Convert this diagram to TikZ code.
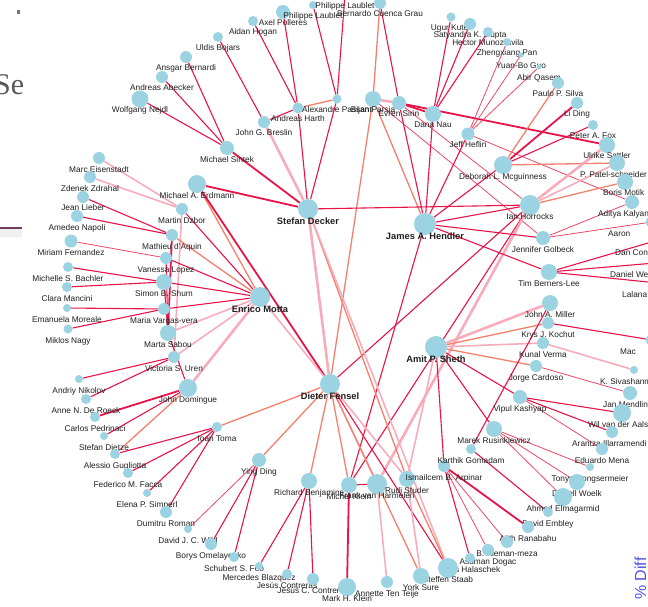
\documentclass[tikz,border=0pt]{standalone}
\usepackage{fontspec}
\setmainfont{Liberation Sans}
\newfontfamily\seriffont{Liberation Serif}
\pgfdeclarelayer{edges}
\pgfsetlayers{edges,main}

\definecolor{nodeblue}{RGB}{155,211,226}
\definecolor{hotred}{RGB}{232,20,72}
\definecolor{warmred}{RGB}{238,72,102}
\definecolor{salmon}{RGB}{244,128,108}
\definecolor{palepink}{RGB}{248,172,186}

\newcommand\pers[5]{\node[author,minimum size=#4pt] (#1) at (#2,#3) {};
  \node[lbl,anchor=base] at (#2,#3+14) {#5};}
\newcommand\persw[6]{\node[author,minimum size=#4pt] (#1) at (#2,#3) {};
  \node[lbl,anchor=base west] at (#6,#3+14) {#5};}
\newcommand\hubp[5]{\node[author,minimum size=#4pt] (#1) at (#2,#3) {};
  \node[hublbl,anchor=base] at (#2,#3+15) {#5};}

\begin{document}
\begin{tikzpicture}[x=1pt,y=-1pt,
    author/.style={circle,fill=nodeblue,inner sep=0pt},
    lbl/.style={font=\fontsize{8.3}{9}\selectfont,inner sep=0pt,text=black!88},
    hublbl/.style={font=\bfseries\fontsize{9.3}{10}\selectfont,inner sep=0pt,text=black!88},
    hot/.style={draw=hotred,line width=1.1pt},
    hott/.style={draw=hotred,line width=1.8pt},
    warm/.style={draw=warmred,line width=0.8pt},
    mild/.style={draw=salmon,line width=1.3pt},
    pale/.style={draw=palepink,line width=1.6pt},
    palet/.style={draw=palepink,line width=2.6pt}]

  \useasboundingbox (0,0) rectangle (648,607);

  \node[font=\seriffont\fontsize{30}{30}\selectfont,text=black!65,anchor=base west,inner sep=0pt] (se) at (-6,95) {Se};
  \fill[black!55] (17,10) rectangle (20,14);
  \fill[black!6] (0,229) rectangle (22,237);
  \draw[line width=1.2pt,color={rgb,255:red,110;green,60;blue,95}] (0,228) -- (22,228);
  \node[rotate=90,anchor=base west,inner sep=0pt,text={rgb,255:red,80;green,80;blue,230},font=\fontsize{16}{16}\selectfont] (diff) at (646,600) {\% Diff};

  \pers{axel}{283}{12}{14}{Axel Polleres}
  \pers{aidan}{253}{21}{10}{Aidan Hogan}
  \pers{uldis}{218}{37}{10}{Uldis Bojars}
  \pers{ansgar}{186}{57}{12}{Ansgar Bernardi}
  \pers{abecker}{162}{77}{12}{Andreas Abecker}
  \pers{nejdl}{140}{99}{17}{Wolfgang Nejdl}
  \pers{sintek}{227}{148}{14}{Michael Sintek}
  \pers{breslin}{264}{122}{12}{John G. Breslin}
  \pers{harth}{298}{108}{11}{Andreas Harth}
  \pers{passant}{337}{99}{9}{Alexandre Passant}
  \pers{laublet}{313}{5}{8}{Philippe Laublet}
  \pers{laubletb}{345}{-5}{10}{Philippe Laublet}
  \pers{grau}{380}{3}{12}{Bernardo Cuenca Grau}
  \pers{parsia}{373}{99}{16}{Bijan Parsia}
  \pers{sirin}{399}{103}{14}{Evren Sirin}
  \pers{nau}{433}{114}{16}{Dana Nau}
  \pers{heflin}{468}{134}{13}{Jeff Heflin}
  \pers{kuter}{451}{17}{9}{Ugur Kuter}
  \pers{gupta}{470}{24}{12}{Satyandra K. Gupta}
  \pers{munoz}{488}{32}{10}{Hector Munoz-avila}
  \pers{pan}{507}{42}{8}{Zhengxiang Pan}
  \pers{guo}{521}{55}{5}{Yuan-Bo Guo}
  \pers{qasem}{539}{67}{5}{Abir Qasem}
  \pers{silva}{558}{83}{12}{Paulo P. Silva}
  \pers{lding}{577}{103}{12}{Li Ding}
  \pers{fox}{593}{125}{10}{Peter A. Fox}
  \pers{sattler}{607}{145}{16}{Ulrike Sattler}
  \persw{patel}{617}{163}{16}{P. Patel-schneider}{580}
  \persw{motik}{625}{182}{16}{Boris Motik}{603}
  \pers{mcguinness}{503}{165}{18}{Deborah L. Mcguinness}
  \pers{horrocks}{530}{205}{20}{Ian Horrocks}
  \persw{kalyanpur}{632}{202}{14}{Aditya Kalyanpur}{598}
  \persw{aaron}{652}{222}{12}{Aaron}{608}
  \persw{connolly}{655}{241}{12}{Dan Connolly}{615}
  \persw{weitzner}{655}{263}{12}{Daniel Weitzner}{610}
  \persw{kagal}{658}{283}{12}{Lalana Kagal}{622}
  \pers{golbeck}{543}{238}{14}{Jennifer Golbeck}
  \pers{bernerslee}{549}{272}{16}{Tim Berners-Lee}
  \hubp{hendler}{425}{224}{22}{James A. Hendler}
  \hubp{decker}{308}{209}{20}{Stefan Decker}
  \hubp{motta}{260}{297}{20}{Enrico Motta}
  \pers{erdmann}{197}{184}{18}{Michael A. Erdmann}
  \pers{dzbor}{182}{209}{12}{Martin Dzbor}
  \pers{eisenstadt}{99}{158}{12}{Marc Eisenstadt}
  \pers{zdrahal}{90}{177}{12}{Zdenek Zdrahal}
  \pers{lieber}{83}{197}{12}{Jean Lieber}
  \pers{napoli}{77}{216}{12}{Amedeo Napoli}
  \pers{daquin}{172}{235}{12}{Mathieu d'Aquin}
  \pers{fernandez}{71}{241}{13}{Miriam Fernandez}
  \pers{lopez}{166}{258}{12}{Vanessa Lopez}
  \pers{bachler}{68}{267}{10}{Michelle S. Bachler}
  \pers{shum}{164}{282}{16}{Simon B. Shum}
  \pers{mancini}{67}{287}{10}{Clara Mancini}
  \pers{moreale}{67}{308}{8}{Emanuela Moreale}
  \pers{vargas}{164}{309}{12}{Maria Vargas-vera}
  \pers{nagy}{68}{329}{9}{Miklos Nagy}
  \pers{sabou}{168}{333}{16}{Marta Sabou}
  \pers{uren}{174}{357}{12}{Victoria S. Uren}
  \pers{domingue}{188}{388}{18}{John Domingue}
  \pers{nikolov}{79}{379}{8}{Andriy Nikolov}
  \pers{deroeck}{86}{399}{10}{Anne N. De Roeck}
  \pers{pedrinaci}{95}{417}{10}{Carlos Pedrinaci}
  \pers{dietze}{104}{436}{8}{Stefan Dietze}
  \pers{gugliotta}{115}{454}{10}{Alessio Gugliotta}
  \pers{facca}{128}{473}{10}{Federico M. Facca}
  \pers{simperl}{147}{493}{8}{Elena P. Simperl}
  \pers{roman}{166}{512}{12}{Dumitru Roman}
  \pers{wild}{188}{529}{8}{David J. C. Wild}
  \pers{omelayenko}{211}{544}{12}{Borys Omelayenko}
  \pers{foo}{234}{557}{10}{Schubert S. Foo}
  \pers{blazquez}{259}{566}{8}{Mercedes Blazquez}
  \pers{contreras}{287}{574}{10}{Jesús Contreras}
  \pers{ccontreras}{313}{579}{12}{Jesús C. Contreras}
  \pers{markklein}{347}{587}{18}{Mark H. Klein}
  \pers{tenteije}{387}{582}{12}{Annette Ten Teije}
  \pers{yding}{259}{460}{14}{Ying Ding}
  \pers{toma}{217}{427}{10}{Ioan Toma}
  \pers{benjamins}{309}{481}{16}{Richard Benjamins}
  \pers{michelklein}{349}{485}{16}{Michel Klein}
  \pers{harmelen}{377}{484}{20}{Frank van Harmelen}
  \pers{studer}{407}{479}{16}{Rudi Studer}
  \pers{arpinar}{444}{466}{12}{Ismailcem B. Arpinar}
  \pers{gomadam}{471}{449}{10}{Karthik Gomadam}
  \pers{rusinkiewicz}{494}{429}{16}{Marek Rusinkiewicz}
  \pers{kashyap}{520}{397}{14}{Vipul Kashyap}
  \pers{cardoso}{536}{366}{12}{Jorge Cardoso}
  \pers{verma}{543}{343}{12}{Kunal Verma}
  \pers{kochut}{548}{323}{12}{Krys J. Kochut}
  \pers{miller}{550}{303}{16}{John A. Miller}
  \hubp{sheth}{436}{347}{22}{Amit P. Sheth}
  \hubp{fensel}{330}{384}{20}{Dieter Fensel}
  \persw{mac}{652}{340}{12}{Mac}{620}
  \persw{sivash}{634}{370}{8}{K. Sivashanmugam}{600}
  \persw{mendling}{630}{393}{14}{Jan Mendling}{603}
  \persw{aalst}{622}{413}{18}{Wil van der Aalst}{588}
  \persw{illarramendi}{612}{432}{12}{Arantza Illarramendi}{572}
  \pers{mena}{602}{449}{12}{Eduardo Mena}
  \pers{hongsermeier}{590}{467}{8}{Tonya Hongsermeier}
  \pers{woelk}{577}{482}{16}{Darrell Woelk}
  \pers{elmagarmid}{563}{497}{18}{Ahmed Elmagarmid}
  \pers{embley}{548}{512}{10}{David Embley}
  \pers{ranabahu}{528}{527}{12}{Ajith Ranabahu}
  \pers{alemanmeza}{507}{542}{12}{B. Aleman-meza}
  \pers{dogac}{488}{550}{12}{Asuman Dogac}
  \pers{halaschek}{470}{558}{10}{Chris Halaschek}
  \pers{staab}{448}{568}{20}{Steffen Staab}
  \pers{sure}{421}{576}{16}{York Sure}

  \begin{pgfonlayer}{edges}
  \draw
  (nejdl) edge[hot] (sintek)
  (abecker) edge[hot] (sintek)
  (ansgar) edge[hot] (sintek)
  (uldis) edge[hot] (breslin)
  (aidan) edge[hot] (harth)
  (axel) edge[hot] (harth)
  (laublet) edge[hot] (passant)
  (laubletb) edge[hot] (passant)
  (harth) edge[mild] (passant)
  (harth) edge[hot] (breslin)
  (harth) edge[hot] (decker)
  (passant) edge[hot] (decker)
  (breslin) edge[palet] (decker)
  (sintek) edge[hott] (decker)
  (erdmann) edge[hott] (decker)
  (grau) edge[mild] (parsia)
  (grau) edge[hot] (sirin)
  (parsia) edge[palet] (sirin)
  (sirin) edge[hott] (nau)
  (sirin) edge[hott] (sattler)
  (parsia) edge[warm] (golbeck)
  (sirin) edge[warm] (horrocks)
  (nau) edge[hot] (kuter)
  (nau) edge[hot] (gupta)
  (nau) edge[hot] (munoz)
  (nau) edge[hot] (hendler)
  (heflin) edge[warm] (pan)
  (heflin) edge[warm] (guo)
  (heflin) edge[warm] (qasem)
  (heflin) edge[hot] (hendler)
  (heflin) edge[warm] (kalyanpur)
  (parsia) edge[mild] (hendler)
  (sirin) edge[hot] (hendler)
  (parsia) edge[mild] (fensel)
  (mcguinness) edge[mild] (silva)
  (mcguinness) edge[hott] (lding)
  (mcguinness) edge[hot] (fox)
  (mcguinness) edge[mild] (patel)
  (mcguinness) edge[hot] (hendler)
  (horrocks) edge[palet] (sattler)
  (horrocks) edge[pale] (patel)
  (horrocks) edge[mild] (motik)
  (horrocks) edge[hot] (hendler)
  (horrocks) edge[hot] (decker)
  (horrocks) edge[hot] (fensel)
  (horrocks) edge[hot] (michelklein)
  (horrocks) edge[palet] (harmelen)
  (golbeck) edge[hot] (hendler)
  (bernerslee) edge[hot] (hendler)
  (golbeck) edge[warm] (aaron)
  (golbeck) edge[warm] (kalyanpur)
  (bernerslee) edge[hot] (connolly)
  (bernerslee) edge[hot] (weitzner)
  (bernerslee) edge[hot] (kagal)
  (hendler) edge[hot] (michelklein)
  (erdmann) edge[mild] (motta)
  (erdmann) edge[hott] (fensel)
  (dzbor) edge[hot] (motta)
  (dzbor) edge[pale] (eisenstadt)
  (dzbor) edge[pale] (zdrahal)
  (dzbor) edge[pale] (uren)
  (daquin) edge[hot] (lieber)
  (daquin) edge[hot] (napoli)
  (daquin) edge[mild] (motta)
  (daquin) edge[hott] (sabou)
  (lopez) edge[warm] (fernandez)
  (lopez) edge[hot] (motta)
  (lopez) edge[hot] (sabou)
  (shum) edge[hot] (bachler)
  (shum) edge[hot] (mancini)
  (shum) edge[hot] (motta)
  (shum) edge[hot] (sabou)
  (vargas) edge[hot] (moreale)
  (vargas) edge[hot] (nagy)
  (vargas) edge[hot] (motta)
  (sabou) edge[pale] (motta)
  (uren) edge[pale] (motta)
  (domingue) edge[palet] (motta)
  (sabou) edge[hot] (domingue)
  (uren) edge[hot] (nikolov)
  (uren) edge[hot] (deroeck)
  (domingue) edge[hott] (pedrinaci)
  (domingue) edge[hot] (dietze)
  (domingue) edge[mild] (gugliotta)
  (motta) edge[pale] (fensel)
  (toma) edge[mild] (fensel)
  (yding) edge[mild] (fensel)
  (decker) edge[palet] (fensel)
  (decker) edge[mild] (studer)
  (decker) edge[pale] (staab)
  (fensel) edge[mild] (benjamins)
  (fensel) edge[mild] (michelklein)
  (fensel) edge[pale] (harmelen)
  (fensel) edge[pale] (studer)
  (fensel) edge[hot] (staab)
  (fensel) edge[mild] (sure)
  (toma) edge[hot] (gugliotta)
  (toma) edge[hot] (facca)
  (toma) edge[hot] (simperl)
  (toma) edge[hot] (roman)
  (yding) edge[warm] (wild)
  (yding) edge[hot] (omelayenko)
  (yding) edge[hot] (foo)
  (benjamins) edge[hot] (blazquez)
  (benjamins) edge[hot] (contreras)
  (benjamins) edge[hot] (ccontreras)
  (michelklein) edge[hott] (markklein)
  (michelklein) edge[hot] (harmelen)
  (harmelen) edge[pale] (tenteije)
  (studer) edge[pale] (sure)
  (studer) edge[mild] (staab)
  (sheth) edge[palet] (miller)
  (sheth) edge[mild] (kochut)
  (sheth) edge[pale] (verma)
  (sheth) edge[mild] (cardoso)
  (sheth) edge[hot] (kashyap)
  (sheth) edge[hot] (rusinkiewicz)
  (sheth) edge[hot] (arpinar)
  (sheth) edge[pale] (studer)
  (miller) edge[hot] (gomadam)
  (kochut) edge[hot] (mac)
  (verma) edge[pale] (sivash)
  (cardoso) edge[warm] (mendling)
  (kashyap) edge[hot] (aalst)
  (kashyap) edge[hot] (illarramendi)
  (kashyap) edge[warm] (mena)
  (rusinkiewicz) edge[warm] (hongsermeier)
  (rusinkiewicz) edge[warm] (woelk)
  (rusinkiewicz) edge[warm] (elmagarmid)
  (gomadam) edge[hot] (embley)
  (arpinar) edge[hott] (ranabahu)
  (arpinar) edge[warm] (alemanmeza)
  (arpinar) edge[warm] (dogac)
  (arpinar) edge[hot] (halaschek);
  \end{pgfonlayer}

\end{tikzpicture}
\end{document}
